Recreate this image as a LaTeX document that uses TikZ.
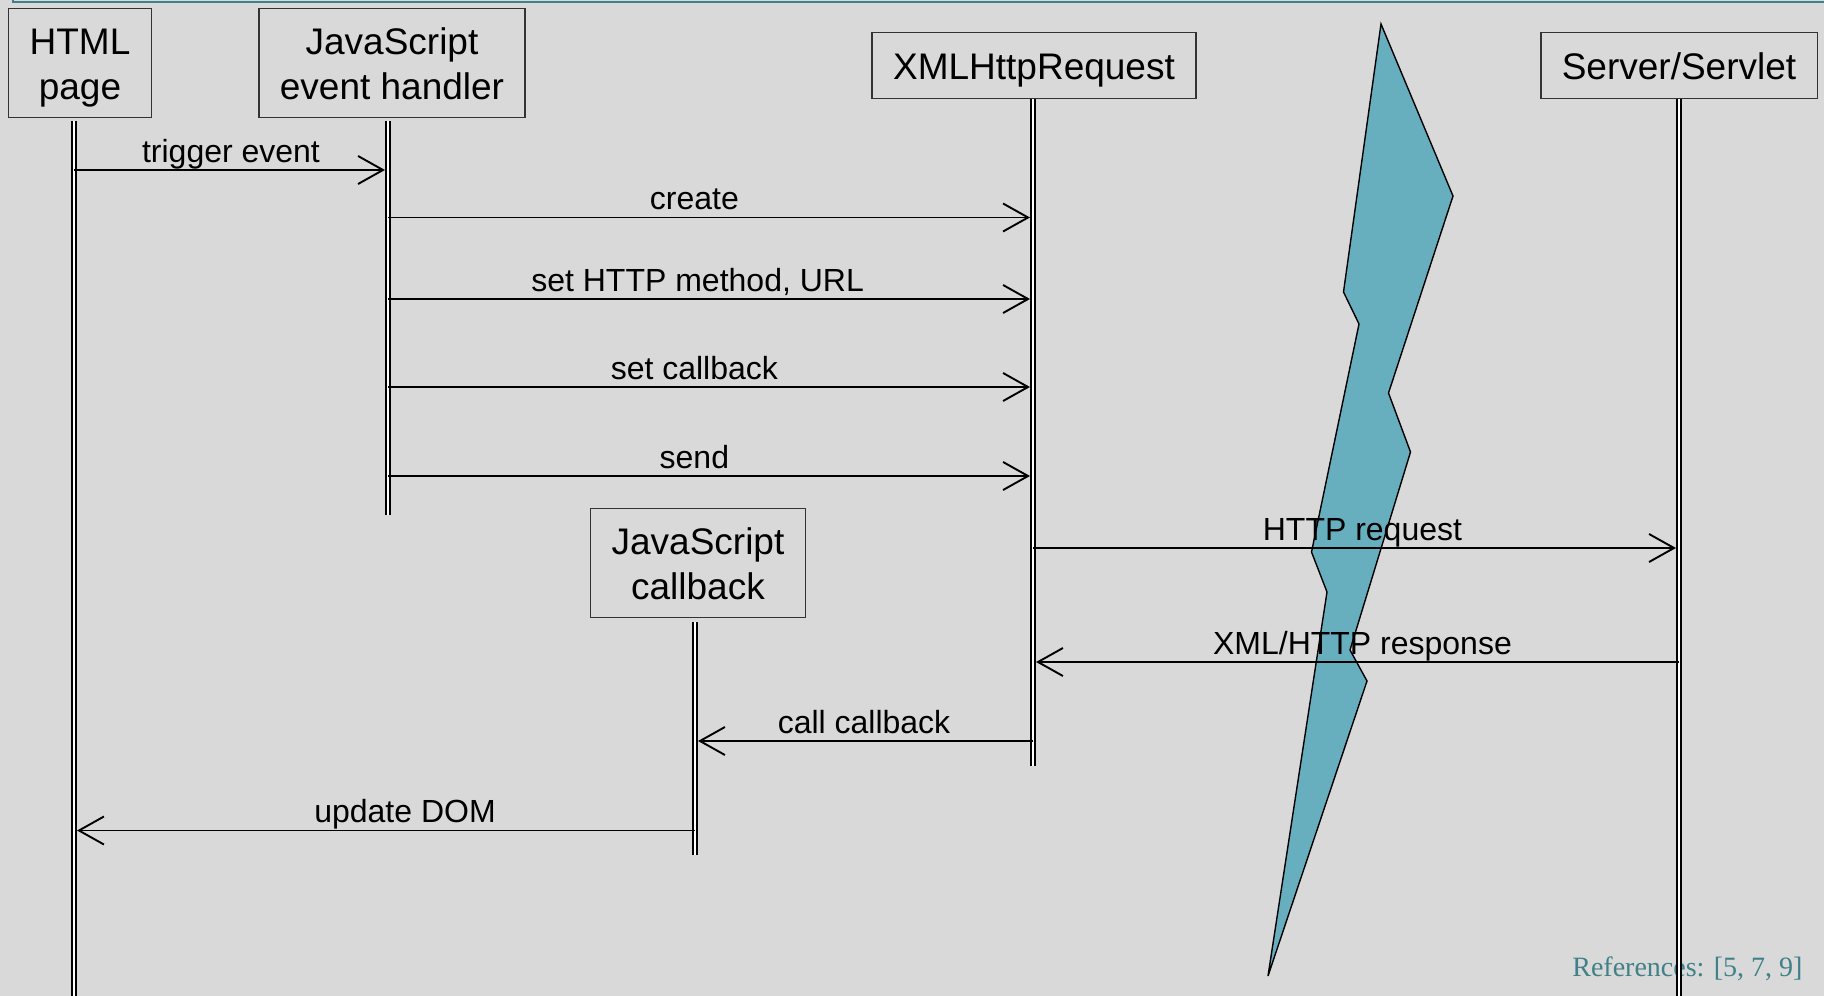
\documentclass[tikz,border=0pt]{standalone}
\usepackage{xcolor}
\usepackage{fontspec}
\setmainfont{Liberation Sans}
\newfontfamily\refsfont{Liberation Serif}
\usepackage{tikz}
\usetikzlibrary{arrows.meta}
\usetikzlibrary{calc}
\usetikzlibrary{positioning}

\definecolor{bgcol}{HTML}{D9D9D9}
\definecolor{boltcol}{HTML}{67AFBF}
\definecolor{refcol}{HTML}{3F8187}

\newcommand{\twolines}[2]{\begin{tabular}[t]{@{}c@{}}#1\\#2\end{tabular}}

\begin{document}
\begin{tikzpicture}[
    x=1pt, y=-1pt,
    actor/.style={draw=black!80, line width=1.4pt, inner xsep=21pt,
      inner ysep=15pt, text height=31.5pt, text depth=4.5pt,
      font=\fontsize{37}{45}\selectfont},
    actor2/.style={actor, text depth=48pt},
    life/.style={double, double distance=2.5pt, line width=1.8pt},
    msg/.style={line width=1.9pt, shorten >=3pt,
      -{Straight Barb[length=25pt, width=28pt, line width=1.9pt]}},
    lbl/.style={above, inner sep=0pt, text depth=7pt,
      font=\fontsize{32}{38}\selectfont}]

    \fill [bgcol] (0, 0) rectangle (1824, 996);
    \useasboundingbox (0, 0) rectangle (1824, 996);
    \draw [refcol, line width=2pt] (13, 0) -- (13, 2) -- (1824, 2);

    % the network gap
    \draw [fill=boltcol, line width=1.4pt] (1381, 24) -- (1453, 196)
    -- (1388.5, 393) -- (1410.5, 452) -- (1350, 650) -- (1367, 681)
    -- (1268, 976) -- (1327, 592) -- (1311.5, 552) -- (1359, 324)
    -- (1343.5, 292) -- cycle;

    \node [anchor=east, text=refcol, font=\refsfont\fontsize{28}{32}\selectfont]
      (refs) at (1806, 969) {References: [5, 7, 9]};

    % participants
    \node [actor2] (html) at (80, 63) {\twolines{HTML}{page}};
    \node [actor2] (jsh) at (392, 63) {\twolines{JavaScript}{event handler}};
    \node [actor] (xhr) at (1034, 65.5) {XMLHttpRequest};
    \node [actor] (srv) at (1679, 65.5) {Server/Servlet};
    \node [actor2] (jcb) at (698, 563) {\twolines{JavaScript}{callback}};

    \coordinate (html-top) at ([xshift=-6pt, yshift=-3pt]html.south);
    \coordinate (jsh-top) at ([xshift=-4pt, yshift=-3pt]jsh.south);
    \coordinate (xhr-top) at ([xshift=-1pt]xhr.south);
    \coordinate (srv-top) at (srv.south);
    \coordinate (jcb-top) at ([xshift=-3pt, yshift=-4pt]jcb.south);

    % lifelines
    \draw [life] (html-top) -- ++(0, 876);
    \draw [life] (jsh-top) -- ++(0, 394);
    \draw [life] (xhr-top) -- ++(0, 667);
    \draw [life] (srv-top) -- ++(0, 898);
    \draw [life] (jcb-top) -- ++(0, 233);

    % messages
    \coordinate (m1) at (0, 170);
    \coordinate (m2) at (0, 217.5);
    \coordinate (m3) at (0, 299);
    \coordinate (m4) at (0, 387);
    \coordinate (m5) at (0, 476);
    \coordinate (m6) at (0, 548);
    \coordinate (m7) at (0, 662);
    \coordinate (m8) at (0, 741);
    \coordinate (m9) at (0, 830.5);

    \draw [msg] (html-top |- m1) -- node [lbl] {trigger event} (jsh-top |- m1);
    \draw [msg] (jsh-top |- m2) -- node [lbl, pos=0.475] {create} (xhr-top |- m2);
    \draw [msg] (jsh-top |- m3) -- node [lbl, pos=0.48] {set HTTP method, URL} (xhr-top |- m3);
    \draw [msg] (jsh-top |- m4) -- node [lbl, pos=0.475] {set callback} (xhr-top |- m4);
    \draw [msg] (jsh-top |- m5) -- node [lbl, pos=0.475] {send} (xhr-top |- m5);
    \draw [msg] (xhr-top |- m6) -- node [lbl, pos=0.51] {HTTP request} (srv-top |- m6);
    \draw [msg] (srv-top |- m7) -- node [lbl, pos=0.49] {XML/HTTP response} (xhr-top |- m7);
    \draw [msg] (xhr-top |- m8) -- node [lbl] {call callback} (jcb-top |- m8);
    \draw [msg] (jcb-top |- m9) -- node [lbl, pos=0.467] {update DOM} (html-top |- m9);

  \end{tikzpicture}
\end{document}
